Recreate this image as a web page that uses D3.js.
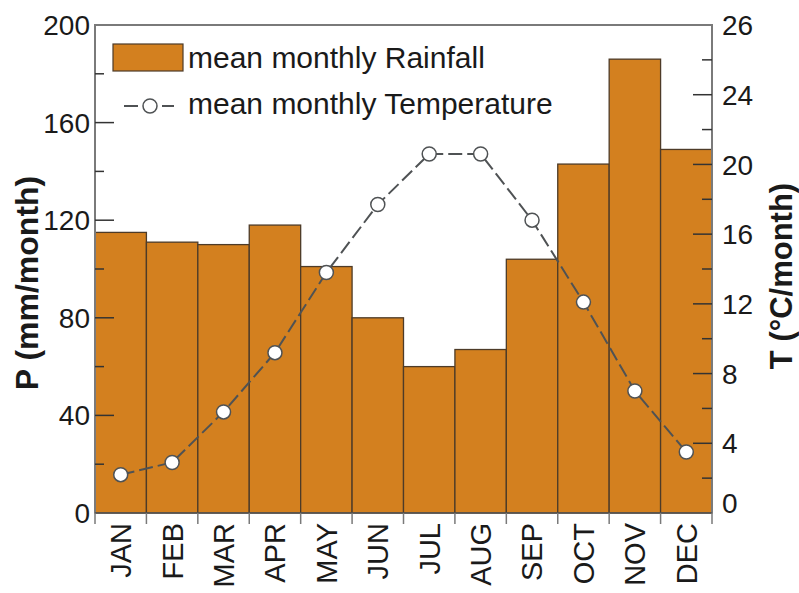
<!DOCTYPE html>
<html>
<head>
<meta charset="utf-8">
<script src="https://cdn.jsdelivr.net/npm/d3@7"></script>
<style>
  body { margin: 0; background: #fff; }
  text { font-family: "Liberation Sans", Arial, sans-serif; fill: #1a1a1a; }
</style>
</head>
<body>
<script>
// Chart data
const months = ["JAN", "FEB", "MAR", "APR", "MAY", "JUN", "JUL", "AUG", "SEP", "OCT", "NOV", "DEC"];
const rainfall = [115, 111, 110, 118, 101, 80, 60, 67, 104, 143, 186, 149];
const temperature = [2.2, 2.9, 5.8, 9.2, 13.8, 17.7, 20.6, 20.6, 16.8, 12.1, 7.0, 3.5];

const leftTicks = [0, 40, 80, 120, 160, 200];
const leftMinor = [20, 60, 100, 140, 180];
const rightTicks = [0, 4, 8, 12, 16, 20, 24, 28];
const rightTickLabels = ["0", "4", "8", "12", "16", "20", "24", "26"];
const rightMinor = [2, 6, 10, 14, 18, 22, 26];

const width = 799, height = 593;
const margin = { top: 25, right: 87, bottom: 80, left: 95 };
const x0 = margin.left, x1 = width - margin.right;
const y0 = height - margin.bottom, y1 = margin.top;

const svg = d3.select("body")
    .append("svg")
    .attr("width", width)
    .attr("height", height);

// Scales
const x = d3.scaleBand().domain(months).range([x0, x1]).padding(0);
const yP = d3.scaleLinear().domain([0, 200]).range([y0, y1]);
const yT = d3.scaleLinear().domain([0, 28]).range([y0, y1]);

const barColor = "#d3801f";
const axisColor = "#7a7a7a";

// Bars
svg.selectAll(".bar")
    .data(rainfall)
    .enter().append("rect")
    .attr("class", "bar")
    .attr("x", (d, i) => x(months[i]))
    .attr("y", d => yP(d))
    .attr("width", x.bandwidth())
    .attr("height", d => yP(0) - yP(d))
    .attr("fill", barColor)
    .attr("stroke", "#4d3b28")
    .attr("stroke-width", 1.3);

// Frame
svg.append("path")
    .attr("d", `M${x0},${y0}V${y1}H${x1}V${y0}`)
    .attr("fill", "none")
    .attr("stroke", axisColor)
    .attr("stroke-width", 2);
svg.append("line")
    .attr("x1", x0).attr("x2", x1)
    .attr("y1", y0).attr("y2", y0)
    .attr("stroke", "#555")
    .attr("stroke-width", 1.5);

// Left ticks (inward)
svg.selectAll(".lt")
    .data(leftTicks.filter(d => d > 0 && d < 200))
    .enter().append("line")
    .attr("x1", x0).attr("x2", x0 + 19)
    .attr("y1", d => yP(d)).attr("y2", d => yP(d))
    .attr("stroke", "#333").attr("stroke-width", 1.5);
svg.selectAll(".lm")
    .data(leftMinor)
    .enter().append("line")
    .attr("x1", x0).attr("x2", x0 + 9)
    .attr("y1", d => yP(d)).attr("y2", d => yP(d))
    .attr("stroke", "#333").attr("stroke-width", 1.5);
svg.selectAll(".ll")
    .data(leftTicks)
    .enter().append("text")
    .attr("x", x0 - 5)
    .attr("y", d => yP(d))
    .attr("dy", "0.36em")
    .attr("text-anchor", "end")
    .style("font-size", "28px")
    .text(d => d);

// Right ticks (inward)
svg.selectAll(".rt")
    .data(rightTicks.filter(d => d > 0 && d < 28))
    .enter().append("line")
    .attr("x1", x1).attr("x2", x1 - 19)
    .attr("y1", d => yT(d)).attr("y2", d => yT(d))
    .attr("stroke", "#333").attr("stroke-width", 1.5);
svg.selectAll(".rm")
    .data(rightMinor)
    .enter().append("line")
    .attr("x1", x1).attr("x2", x1 - 10)
    .attr("y1", d => yT(d)).attr("y2", d => yT(d))
    .attr("stroke", "#333").attr("stroke-width", 1.5);
svg.selectAll(".rl")
    .data(rightTicks)
    .enter().append("text")
    .attr("x", x1 + 10)
    .attr("y", d => yT(d) - (d === 0 ? 10 : 0))
    .attr("dy", "0.36em")
    .attr("text-anchor", "start")
    .style("font-size", "28px")
    .text((d, i) => rightTickLabels[i]);

// X ticks at band edges, below the axis
const edges = months.map(m => x(m)).concat([x1]);
svg.selectAll(".xt")
    .data(edges)
    .enter().append("line")
    .attr("x1", d => d).attr("x2", d => d)
    .attr("y1", y0).attr("y2", y0 + 11)
    .attr("stroke", axisColor).attr("stroke-width", 1.5);

// Month labels
svg.selectAll(".ml")
    .data(months)
    .enter().append("text")
    .attr("transform", d => `translate(${x(d) + x.bandwidth() / 2},${y0 + 10}) rotate(-90)`)
    .attr("dy", "0.36em")
    .attr("text-anchor", "end")
    .style("font-size", "29px")
    .text(d => d);

// Temperature line
const line = d3.line()
    .x((d, i) => x(months[i]) + x.bandwidth() / 2)
    .y(d => yT(d));

svg.append("path")
    .datum(temperature)
    .attr("d", line)
    .attr("fill", "none")
    .attr("stroke", "#4f5254")
    .attr("stroke-width", 2)
    .attr("stroke-dasharray", "14,5");

svg.selectAll(".pt")
    .data(temperature)
    .enter().append("circle")
    .attr("cx", (d, i) => x(months[i]) + x.bandwidth() / 2)
    .attr("cy", d => yT(d))
    .attr("r", 7)
    .attr("fill", "#fff")
    .attr("stroke", "#4f5254")
    .attr("stroke-width", 1.5);

// Axis titles
svg.append("text")
    .attr("transform", `translate(26,283) rotate(-90)`)
    .attr("dy", "0.36em")
    .attr("text-anchor", "middle")
    .style("font-size", "32px")
    .style("font-weight", "bold")
    .text("P (mm/month)");

svg.append("text")
    .attr("transform", `translate(781,276) rotate(-90)`)
    .attr("dy", "0.36em")
    .attr("text-anchor", "middle")
    .style("font-size", "31px")
    .style("font-weight", "bold")
    .text("T (°C/month)");

// Legend
const legend = svg.append("g");
legend.append("rect")
    .attr("x", 113).attr("y", 44)
    .attr("width", 70).attr("height", 27)
    .attr("fill", barColor)
    .attr("stroke", "#4d3b28")
    .attr("stroke-width", 1.2);
legend.append("text")
    .attr("x", 188).attr("y", 57)
    .attr("dy", "0.36em")
    .style("font-size", "30px")
    .text("mean monthly Rainfall");

legend.append("line")
    .attr("x1", 124).attr("x2", 174)
    .attr("y1", 106).attr("y2", 106)
    .attr("stroke", "#4f5254")
    .attr("stroke-width", 2)
    .attr("stroke-dasharray", "14,5");
legend.append("circle")
    .attr("cx", 150).attr("cy", 106)
    .attr("r", 7)
    .attr("fill", "#fff")
    .attr("stroke", "#4f5254")
    .attr("stroke-width", 1.5);
legend.append("text")
    .attr("x", 188).attr("y", 103)
    .attr("dy", "0.36em")
    .style("font-size", "30px")
    .text("mean monthly Temperature");
</script>
</body>
</html>
